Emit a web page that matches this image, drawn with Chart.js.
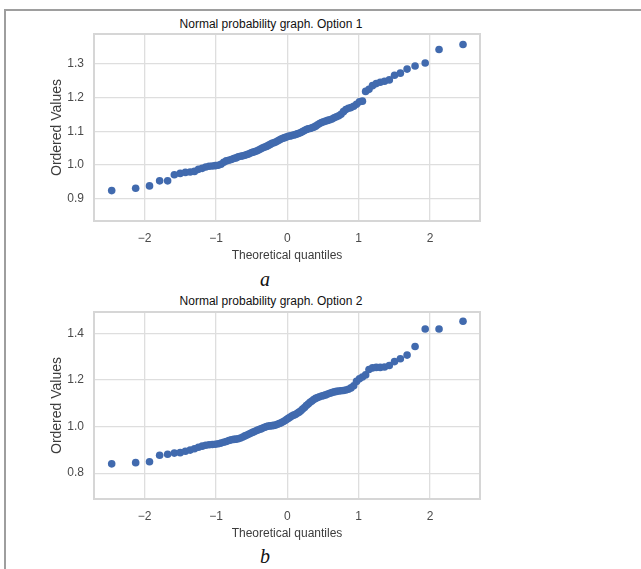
<!DOCTYPE html>
<html>
<head>
<meta charset="utf-8">
<script src="https://cdn.jsdelivr.net/npm/chart.js@4.4.1/dist/chart.umd.min.js"></script>
<style>
    body { margin: 0; background: #fff; width: 641px; height: 569px; overflow: hidden; position: relative; font-family: "Liberation Sans", Arial, sans-serif; }
    .frame { position: absolute; left: 4px; top: 9px; width: 700px; height: 600px; border-left: 2px solid #9e9e9e; border-top: 2px solid #9e9e9e; }
    .title { position: absolute; left: 71px; width: 400px; text-align: center; font-size: 12px; line-height: 14px; color: #111; }
    .caption { position: absolute; left: 245px; width: 40px; text-align: center; font: italic 20px/20px "Liberation Serif", "Times New Roman", serif; color: #111; }
    canvas { position: absolute; left: 0; }
</style>
</head>
<body>
<div class="frame"></div>
<div class="title" style="top:17px">Normal probability graph. Option 1</div>
<canvas id="option1" width="641" height="263" style="top:0"></canvas>
<div class="caption" style="top:269px">a</div>
<div class="title" style="top:294px">Normal probability graph. Option 2</div>
<canvas id="option2" width="641" height="263" style="top:278px"></canvas>
<div class="caption" style="top:546px">b</div>
<script>
const theoreticalQuantiles = [
    -2.462, -2.126, -1.932, -1.790, -1.678, -1.584, -1.502, -1.429, -1.362, -1.302,
    -1.246, -1.193, -1.144, -1.097, -1.052, -1.010, -0.969, -0.930, -0.892, -0.856,
    -0.820, -0.786, -0.752, -0.720, -0.688, -0.656, -0.625, -0.595, -0.566, -0.537,
    -0.508, -0.480, -0.452, -0.424, -0.397, -0.370, -0.344, -0.318, -0.292, -0.266,
    -0.240, -0.214, -0.189, -0.164, -0.138, -0.113, -0.088, -0.062, -0.037, -0.012,
    0.012, 0.037, 0.062, 0.088, 0.113, 0.138, 0.164, 0.189, 0.214, 0.240,
    0.266, 0.292, 0.318, 0.344, 0.370, 0.397, 0.424, 0.452, 0.480, 0.508,
    0.537, 0.566, 0.595, 0.625, 0.656, 0.688, 0.720, 0.752, 0.786, 0.820,
    0.856, 0.892, 0.930, 0.969, 1.010, 1.052, 1.097, 1.144, 1.193, 1.246,
    1.302, 1.362, 1.429, 1.502, 1.584, 1.678, 1.790, 1.932, 2.126, 2.462
];

const option1Values = [
    0.924, 0.931, 0.938, 0.953, 0.953, 0.971, 0.975, 0.978, 0.979, 0.981,
    0.987, 0.990, 0.994, 0.996, 0.997, 0.998, 0.999, 1.002, 1.008, 1.012,
    1.014, 1.016, 1.019, 1.021, 1.024, 1.026, 1.027, 1.029, 1.031, 1.033,
    1.036, 1.038, 1.040, 1.042, 1.045, 1.048, 1.051, 1.053, 1.055, 1.058,
    1.061, 1.064, 1.066, 1.068, 1.071, 1.074, 1.077, 1.079, 1.081, 1.083,
    1.085, 1.086, 1.087, 1.089, 1.090, 1.092, 1.094, 1.096, 1.099, 1.102,
    1.105, 1.107, 1.108, 1.110, 1.112, 1.115, 1.119, 1.123, 1.126, 1.128,
    1.130, 1.132, 1.134, 1.136, 1.140, 1.143, 1.146, 1.150, 1.158, 1.164,
    1.168, 1.170, 1.174, 1.180, 1.187, 1.189, 1.218, 1.224, 1.235, 1.241,
    1.245, 1.248, 1.252, 1.266, 1.272, 1.284, 1.293, 1.302, 1.342, 1.357
];

const option2Values = [
    0.840, 0.845, 0.849, 0.877, 0.881, 0.886, 0.888, 0.894, 0.899, 0.905,
    0.911, 0.916, 0.920, 0.922, 0.923, 0.924, 0.926, 0.929, 0.933, 0.936,
    0.940, 0.943, 0.945, 0.946, 0.948, 0.951, 0.955, 0.960, 0.964, 0.968,
    0.972, 0.976, 0.980, 0.984, 0.987, 0.990, 0.994, 0.997, 1.000, 1.002,
    1.003, 1.004, 1.005, 1.007, 1.010, 1.013, 1.016, 1.021, 1.025, 1.030,
    1.035, 1.040, 1.045, 1.049, 1.052, 1.057, 1.062, 1.068, 1.075, 1.082,
    1.090, 1.097, 1.104, 1.110, 1.116, 1.121, 1.125, 1.128, 1.131, 1.133,
    1.136, 1.140, 1.143, 1.146, 1.149, 1.151, 1.153, 1.154, 1.155, 1.157,
    1.160, 1.166, 1.175, 1.194, 1.205, 1.213, 1.222, 1.245, 1.252, 1.254,
    1.254, 1.256, 1.262, 1.279, 1.291, 1.307, 1.344, 1.419, 1.419, 1.452
];

const xTickValues = [-2, -1, 0, 1, 2];
const xTickLabels = ['\u22122', '\u22121', '0', '1', '2'];
const option1TickValues = [0.9, 1.0, 1.1, 1.2, 1.3];
const option1TickLabels = ['0.9', '1.0', '1.1', '1.2', '1.3'];
const option2TickValues = [0.8, 1.0, 1.2, 1.4];
const option2TickLabels = ['0.8', '1.0', '1.2', '1.4'];

const xRange = [-2.71, 2.70];
const option1Range = [0.834, 1.388];
const option2Range = [0.689, 1.492];

const fontFamily = '"Liberation Sans", Arial, sans-serif';
const textFont = { family: fontFamily, size: 12 };
const gridColor = '#dedede';

const plotFrame = {
    id: 'plotFrame',
    beforeDatasetsDraw(chart) {
        const { ctx, chartArea } = chart;
        ctx.save();
        ctx.strokeStyle = '#d6d6d6';
        ctx.lineWidth = 2;
        ctx.strokeRect(chartArea.left, chartArea.top, chartArea.right - chartArea.left, chartArea.bottom - chartArea.top);
        ctx.restore();
    }
};

function setTicks(values) {
    return scale => { scale.ticks = values.map(v => ({ value: v })); };
}

function drawChart(canvasId, values, yRange, yTickValues, yTickLabels) {
    const points = values.map((v, i) => ({ x: theoreticalQuantiles[i], y: v }));
    const ctx = document.getElementById(canvasId).getContext('2d');
    return new Chart(ctx, {
        type: 'scatter',
        data: {
            datasets: [{
                data: points,
                backgroundColor: '#416aae',
                borderWidth: 0,
                pointRadius: 3.8,
                pointHoverRadius: 3.8
            }]
        },
        options: {
            responsive: false,
            animation: false,
            devicePixelRatio: 1,
            layout: { padding: { top: 34, left: 49, right: 161, bottom: 0 } },
            plugins: { legend: { display: false }, tooltip: { enabled: false } },
            scales: {
                x: {
                    type: 'linear',
                    min: xRange[0],
                    max: xRange[1],
                    afterBuildTicks: setTicks(xTickValues),
                    afterFit: scale => { scale.height = 42; },
                    ticks: {
                        callback: v => xTickLabels[xTickValues.indexOf(v)],
                        padding: 10,
                        color: '#4a4a4a',
                        font: textFont,
                        maxRotation: 0,
                        autoSkip: false
                    },
                    grid: { color: gridColor, lineWidth: 1.3, drawTicks: false },
                    border: { display: false },
                    title: { display: true, text: 'Theoretical quantiles', color: '#3c3c3c', font: textFont, padding: { top: 3, bottom: 0 } }
                },
                y: {
                    type: 'linear',
                    min: yRange[0],
                    max: yRange[1],
                    afterBuildTicks: setTicks(yTickValues),
                    afterFit: scale => { scale.width = 45; },
                    ticks: {
                        callback: v => yTickLabels[yTickValues.indexOf(v)],
                        padding: 10,
                        color: '#4a4a4a',
                        font: textFont,
                        autoSkip: false
                    },
                    grid: { color: gridColor, lineWidth: 1.3, drawTicks: false },
                    border: { display: false },
                    title: { display: true, text: 'Ordered Values', color: '#3c3c3c', font: { family: fontFamily, size: 14 }, padding: { top: 0, bottom: 0 } }
                }
            }
        },
        plugins: [plotFrame]
    });
}

drawChart('option1', option1Values, option1Range, option1TickValues, option1TickLabels);
drawChart('option2', option2Values, option2Range, option2TickValues, option2TickLabels);
</script>
</body>
</html>
